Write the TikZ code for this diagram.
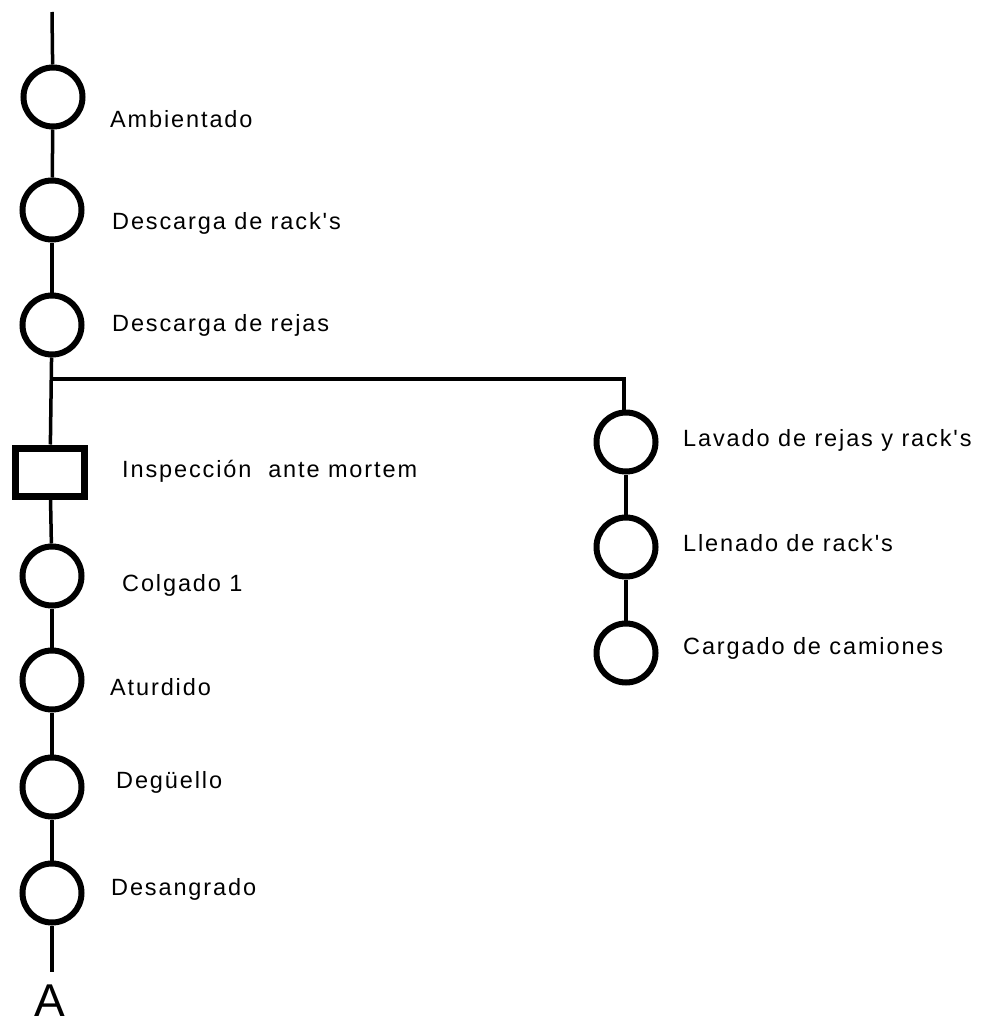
\documentclass[tikz,border=0pt]{standalone}
\usepackage{fontspec}
\newfontfamily\lblfont[LetterSpace=8]{Liberation Sans}
\newfontfamily\bigfont{Liberation Sans}
\begin{document}
\begin{tikzpicture}[x=1pt,y=-1pt,
  op/.style={circle,draw,line width=6pt,minimum size=59pt,inner sep=0pt},
  insp/.style={rectangle,draw,line width=7pt,minimum width=69pt,minimum height=48pt,inner sep=0pt},
  lbl/.style={anchor=base west,inner sep=0pt,font=\lblfont\fontsize{23.5}{28}\selectfont},
  link/.style={line width=3.5pt}]
\useasboundingbox (0,0) rectangle (987,1022);

% main line
\coordinate (top) at (52,12);
\node[op] (c1) at (53,97) {};
\node[op] (c2) at (52,210) {};
\node[op] (c3) at (52,325) {};
\node[insp] (sq) at (50,472) {};
\node[op] (c5) at (52,576) {};
\node[op] (c6) at (52,680) {};
\node[op] (c7) at (52,787) {};
\node[op] (c8) at (52,893) {};
\coordinate (bot) at (52,972);
\node[anchor=base,inner sep=0pt,font=\bigfont\fontsize{46}{52}\selectfont] (A) at (50,1016) {A};

% branch
\coordinate (j) at (52,379);
\coordinate (k) at (624,379);
\node[op] (r1) at (626,442) {};
\node[op] (r2) at (626,547) {};
\node[op] (r3) at (626,653) {};

% connectors
\draw[link] (top) -- (c1);
\draw[link] (c1) -- (c2);
\draw[link] (c2) -- (c3);
\draw[link] (c3) -- (sq);
\draw[link] (sq) -- (c5);
\draw[link] (c5) -- (c6);
\draw[link] (c6) -- (c7);
\draw[link] (c7) -- (c8);
\draw[link] (c8) -- (bot);
\draw[link] (j) -- (k) -- (r1.north -| k);
\draw[link] (r1) -- (r2);
\draw[link] (r2) -- (r3);

% labels
\node[lbl] (t1) at (110,128) {Ambientado};
\node[lbl] (t2) at (112,229) {Descarga de rack's};
\node[lbl] (t3) at (112,331) {Descarga de rejas};
\node[lbl] (t4) at (122,477) {Inspección\ \ ante mortem};
\node[lbl] (t5) at (122,591) {Colgado 1};
\node[lbl] (t6) at (110,695) {Aturdido};
\node[lbl] (t7) at (116,788) {Degüello};
\node[lbl] (t8) at (111,895) {Desangrado};
\node[lbl] (t9) at (683,446) {Lavado de rejas y rack's};
\node[lbl] (t10) at (683,551) {Llenado de rack's};
\node[lbl] (t11) at (683,654) {Cargado de camiones};
\end{tikzpicture}
\end{document}
